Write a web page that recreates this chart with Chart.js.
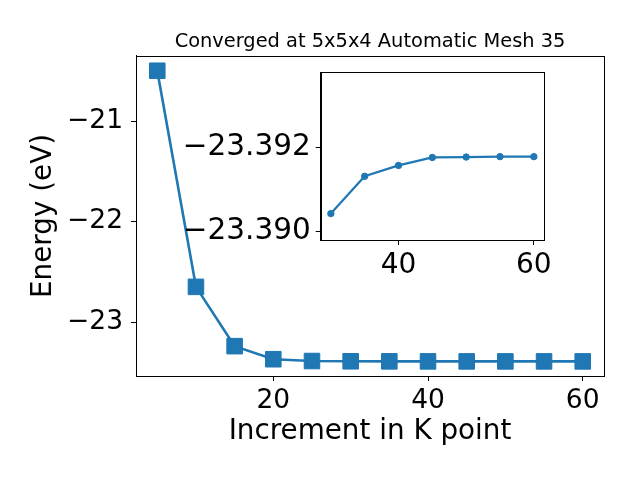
<!DOCTYPE html>
<html>
<head>
<meta charset="utf-8">
<script src="https://cdn.jsdelivr.net/npm/chart.js@4.4.1/dist/chart.umd.min.js"></script>
<style>
  html, body { margin: 0; padding: 0; background: #fff; }
  #wrap { position: relative; width: 640px; height: 480px; }
  #main { position: absolute; left: 0; top: 0; }
  #inset { position: absolute; left: 170px; top: 62px; }
</style>
</head>
<body>
<div id="wrap">
  <canvas id="main" width="640" height="480"></canvas>
  <canvas id="inset" width="390" height="228"></canvas>
</div>
<script>
// ---- data ----
const kPoints = [5, 10, 15, 20, 25, 30, 35, 40, 45, 50, 55, 60];
const energies = [-20.50, -22.65, -23.24, -23.37, -23.388, -23.3904, -23.3913, -23.3916, -23.3918, -23.3918, -23.3918, -23.3918];
const insetK = [30, 35, 40, 45, 50, 55, 60];
const insetEnergies = [-23.39042, -23.39131, -23.39157, -23.39176, -23.39177, -23.39178, -23.39178];
const mainXTicks = [20, 40, 60];
const mainYTicks = [-21, -22, -23];
const insetXTicks = [40, 60];
const insetYTicks = [-23.392, -23.390];
const titleText = 'Converged at 5x5x4 Automatic Mesh 35';
const xLabel = 'Increment in K point';
const yLabel = 'Energy (eV)';

const BLUE = '#1f77b4';
const FONT = "'DejaVu Sans', sans-serif";
const minus = s => String(s).replace('-', '\u2212');

const frame = {
  id: 'frame',
  afterDraw(chart) {
    const a = chart.chartArea, ctx = chart.ctx;
    ctx.save();
    ctx.strokeStyle = '#000';
    ctx.lineWidth = 1;
    ctx.strokeRect(Math.round(a.left) + 0.5, Math.round(a.top) + 0.5,
                   Math.round(a.right - a.left), Math.round(a.bottom - a.top));
    ctx.restore();
  }
};
const whiteArea = {
  id: 'whiteArea',
  beforeDraw(chart) {
    const a = chart.chartArea, ctx = chart.ctx;
    ctx.save();
    ctx.fillStyle = '#fff';
    ctx.fillRect(a.left, a.top, a.right - a.left, a.bottom - a.top);
    ctx.restore();
  }
};

function fixedTicks(arr) {
  return function (scale) { scale.ticks = arr.map(v => ({ value: v })); };
}
function fitter(prop, size) {
  return function (s) {
    s[prop] = size;
    s.paddingTop = 0; s.paddingBottom = 0; s.paddingLeft = 0; s.paddingRight = 0;
  };
}

new Chart(document.getElementById('main'), {
  type: 'line',
  data: {
    datasets: [{
      data: kPoints.map((k, i) => ({ x: k, y: energies[i] })),
      borderColor: BLUE,
      backgroundColor: BLUE,
      borderWidth: 2.6,
      pointStyle: 'rect',
      pointRadius: 11,
      pointBorderWidth: 1,
      pointBorderColor: BLUE,
      pointBackgroundColor: BLUE,
      tension: 0
    }]
  },
  options: {
    responsive: false,
    animation: false,
    devicePixelRatio: 1,
    layout: { padding: { top: 0, right: 36, left: 0, bottom: 0 } },
    plugins: {
      legend: { display: false },
      tooltip: { enabled: false },
      title: {
        display: true,
        text: titleText,
        fullSize: false,
        color: '#000',
        font: { family: FONT, size: 19.4, weight: 'normal' },
        padding: { top: 30.8, bottom: 1.9 }
      }
    },
    scales: {
      x: {
        type: 'linear',
        min: 2.25, max: 62.75,
        afterBuildTicks: fixedTicks(mainXTicks),
        afterFit: fitter('height', 104),
        grid: { drawOnChartArea: false, drawTicks: true, tickLength: 5, color: '#000' },
        border: { display: true, color: '#000', width: 1 },
        ticks: { color: '#000', padding: 4, font: { family: FONT, size: 26.5 }, maxRotation: 0, callback: v => minus(v) },
        title: { display: true, text: xLabel, color: '#000', font: { family: FONT, size: 27.8 }, padding: { top: 0, bottom: 32 } }
      },
      y: {
        type: 'linear',
        min: -23.537, max: -20.353,
        afterBuildTicks: fixedTicks(mainYTicks),
        afterFit: fitter('width', 136),
        grid: { drawOnChartArea: false, drawTicks: true, tickLength: 5, color: '#000' },
        border: { display: true, color: '#000', width: 1 },
        ticks: { color: '#000', padding: 8, font: { family: FONT, size: 26.5 }, callback: v => minus(v) },
        title: { display: true, text: yLabel, color: '#000', font: { family: FONT, size: 27.8 }, padding: { top: 27, bottom: 0 } }
      }
    }
  },
  plugins: [frame]
});

new Chart(document.getElementById('inset'), {
  type: 'line',
  data: {
    datasets: [{
      data: insetK.map((k, i) => ({ x: k, y: insetEnergies[i] })),
      borderColor: BLUE,
      backgroundColor: BLUE,
      borderWidth: 2.2,
      pointStyle: 'circle',
      pointRadius: 3.2,
      pointBorderWidth: 1,
      pointBorderColor: BLUE,
      pointBackgroundColor: BLUE,
      tension: 0
    }]
  },
  options: {
    responsive: false,
    animation: false,
    devicePixelRatio: 1,
    layout: { padding: { top: 10, right: 16, left: 0, bottom: 0 } },
    plugins: { legend: { display: false }, tooltip: { enabled: false }, title: { display: false } },
    scales: {
      x: {
        type: 'linear',
        min: 28.5, max: 61.5,
        afterBuildTicks: fixedTicks(insetXTicks),
        afterFit: fitter('height', 50),
        grid: { drawOnChartArea: false, drawTicks: true, tickLength: 5, color: '#000' },
        border: { display: true, color: '#000', width: 1 },
        ticks: { color: '#000', padding: 4, font: { family: FONT, size: 28 }, maxRotation: 0, callback: v => minus(v) }
      },
      y: {
        type: 'linear',
        reverse: true,
        min: -23.3938, max: -23.38979,
        afterBuildTicks: fixedTicks(insetYTicks),
        afterFit: fitter('width', 150.7),
        grid: { drawOnChartArea: false, drawTicks: true, tickLength: 5, color: '#000' },
        border: { display: true, color: '#000', width: 1 },
        ticks: { color: '#000', padding: 5, font: { family: FONT, size: 29.5 }, callback: v => minus(v.toFixed(3)) }
      }
    }
  },
  plugins: [whiteArea, frame]
});
</script>
</body>
</html>
